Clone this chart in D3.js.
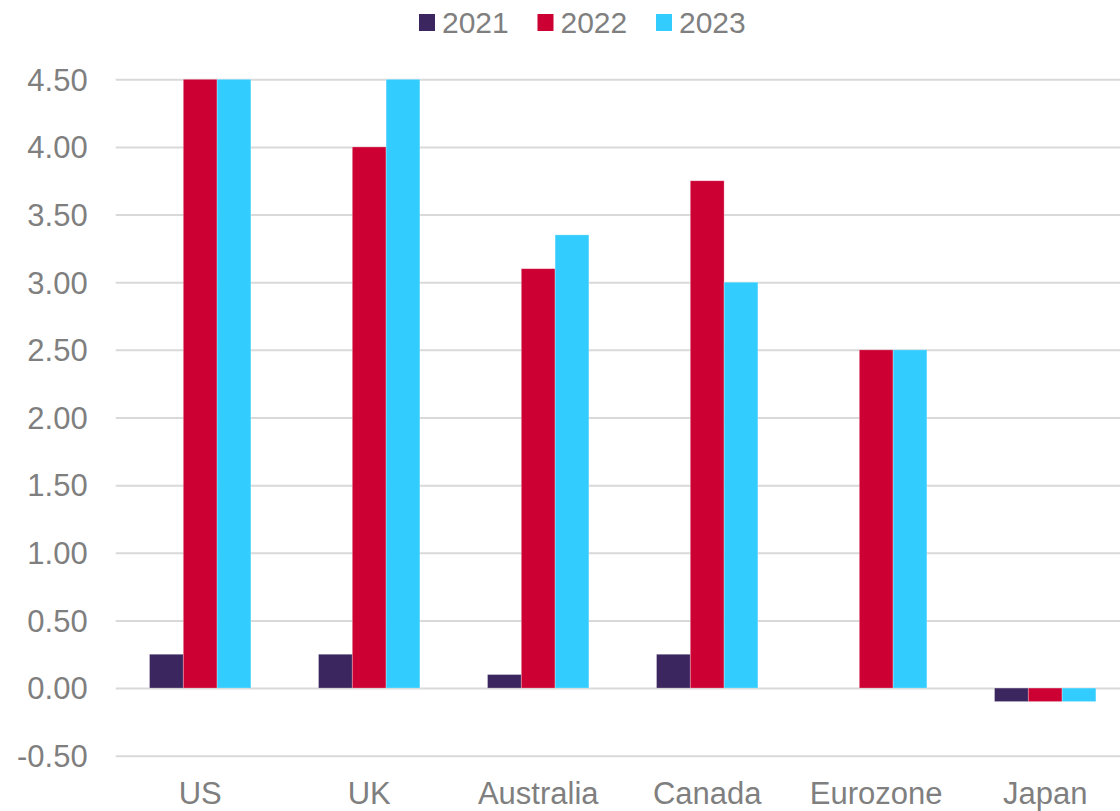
<!DOCTYPE html>
<html>
<head>
<meta charset="utf-8">
<script src="https://cdn.jsdelivr.net/npm/d3@7"></script>
<style>
  html, body { margin: 0; padding: 0; background: #fff; }
  svg { display: block; font-family: "Liberation Sans", Arial, sans-serif; }
</style>
</head>
<body>
<svg id="chart" width="1120" height="811"></svg>
<script>
// Policy rates by economy, year-end
const categories = ["US", "UK", "Australia", "Canada", "Eurozone", "Japan"];
const years = ["2021", "2022", "2023"];
const rates2021 = [0.25, 0.25, 0.10, 0.25, 0.00, -0.10];
const rates2022 = [4.50, 4.00, 3.10, 3.75, 2.50, -0.10];
const rates2023 = [4.50, 4.50, 3.35, 3.00, 2.50, -0.10];
const yTicks = [-0.5, 0, 0.5, 1, 1.5, 2, 2.5, 3, 3.5, 4, 4.5];
const colors = ["#3C2660", "#CC0033", "#33CCFF"];

const seriesValues = [rates2021, rates2022, rates2023];
const rows = categories.map((c, i) => ({
  category: c,
  values: years.map((y, k) => ({ year: y, value: seriesValues[k][i] }))
}));

const svg = d3.select("#chart");
const margin = { left: 115.7, right: 115.7 + 6 * 169, top: 79.3, bottom: 755.7 };

const x0 = d3.scaleBand().domain(categories).range([margin.left, margin.right]).padding(0);
const x1 = d3.scaleBand().domain(years).range([0, x0.bandwidth()]).paddingInner(0).paddingOuter(1);
const y = d3.scaleLinear().domain([-0.5, 4.5]).range([margin.bottom, margin.top]);
const color = d3.scaleOrdinal().domain(years).range(colors);

// Plain hyphen for negative numbers
const locale = d3.formatLocale({ decimal: ".", thousands: ",", grouping: [3], currency: ["$", ""], minus: "-" });
const fmt = locale.format(".2f");

const textColor = "#7F7F7F";

// Gridlines and y labels
const yAxis = svg.append("g")
  .attr("transform", `translate(${margin.left},0)`)
  .call(d3.axisLeft(y).tickValues(yTicks).tickFormat(fmt)
    .tickSize(-(margin.right - margin.left)).tickPadding(28));
yAxis.select(".domain").remove();
yAxis.selectAll(".tick line").attr("stroke", "#D9D9D9").attr("stroke-width", 2);
yAxis.selectAll(".tick text").attr("fill", textColor).attr("font-size", 31).attr("dy", "0.35em");

// Bars
const groups = svg.append("g").selectAll("g")
  .data(rows).join("g")
  .attr("transform", d => `translate(${x0(d.category)},0)`);

groups.selectAll("rect")
  .data(d => d.values).join("rect")
  .attr("x", d => x1(d.year))
  .attr("width", x1.bandwidth())
  .attr("y", d => y(Math.max(0, d.value)))
  .attr("height", d => Math.abs(y(d.value) - y(0)))
  .attr("fill", d => color(d.year))
  .attr("stroke", "#ffffff")
  .attr("stroke-opacity", 0.35)
  .attr("stroke-width", 0.8);

// Category labels
const xAxis = svg.append("g")
  .attr("transform", `translate(0,${margin.bottom})`)
  .call(d3.axisBottom(x0).tickSize(0).tickPadding(26));
xAxis.select(".domain").remove();
xAxis.selectAll(".tick text").attr("fill", textColor).attr("font-size", 31);

// Legend
const legend = svg.append("g").attr("transform", "translate(419,0)");
const items = legend.selectAll("g").data(years).join("g")
  .attr("transform", (d, i) => `translate(${i * 118.5},0)`);
items.append("rect")
  .attr("x", 0).attr("y", 14).attr("width", 16).attr("height", 17)
  .attr("fill", d => color(d));
items.append("text")
  .attr("x", 23).attr("y", 33)
  .attr("fill", textColor).attr("font-size", 30)
  .text(d => d);
</script>
</body>
</html>
